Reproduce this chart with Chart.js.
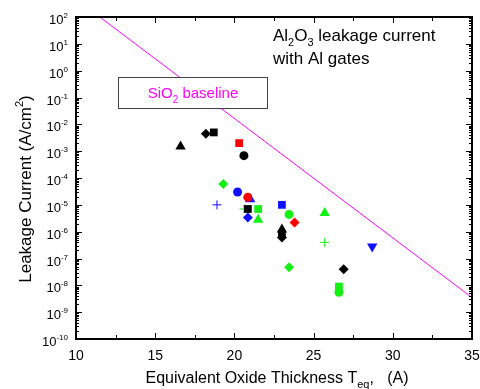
<!DOCTYPE html>
<html>
<head>
<meta charset="utf-8">
<script src="https://cdn.jsdelivr.net/npm/chart.js@4"></script>
<style>
  body { margin: 0; background: #fff; }
</style>
</head>
<body>
<canvas id="leakage-chart" width="480" height="389"></canvas>
<script>
// Data: [Teq (A), leakage current (A/cm2)]
const blackTriangle = [[16.6, 1.5e-3], [23.0, 1.2e-6]];
const blackDiamond = [[18.2, 4.5e-3], [23.0, 6e-7], [26.9, 4e-8]];
const blackSquare = [[18.7, 5e-3], [20.85, 7e-6], [23.0, 8e-7]];
const blackCircle = [[20.6, 6.8e-4]];
const redSquare = [[20.3, 2e-3]];
const redCircle = [[20.85, 1.9e-5]];
const redDiamond = [[23.8, 2.2e-6]];
const greenDiamond = [[19.3, 6e-5], [23.45, 4.7e-8]];
const greenPlus = [[20.6, 7e-6], [25.7, 4e-7]];
const greenSquare = [[21.5, 7e-6], [26.6, 9e-9]];
const greenTriangle = [[21.5, 2.8e-6], [25.7, 5e-6]];
const greenCircle = [[23.45, 4.4e-6], [26.6, 5.5e-9]];
const blueCircle = [[20.2, 3e-5]];
const blueTriangle = [[21.0, 1.6e-5]];
const bluePlus = [[18.9, 1e-5]];
const blueDiamond = [[20.85, 3.4e-6]];
const blueSquare = [[23.0, 1e-5]];
const blueDownTriangle = [[28.7, 2.8e-7]];

// SiO2 baseline end points
const baselineX = [11.5, 35];
const baselineY = [100, 3.5e-9];

// Axis ticks
const xTicks = [10, 15, 20, 25, 30, 35];
const yExponents = [2, 1, 0, -1, -2, -3, -4, -5, -6, -7, -8, -9, -10];

const BLACK = '#000000';
const RED = '#ff0000';
const GREEN = '#14f014';
const BLUE = '#1010ff';
const MAGENTA = '#ff00ff';
const FONT = '"Liberation Sans", Arial, sans-serif';

const toXY = arr => arr.map(p => ({ x: p[0], y: p[1] }));

function markers(data, color, style, radius, rotation) {
    return {
        data: toXY(data),
        showLine: false,
        pointStyle: style,
        pointRadius: radius,
        pointRotation: rotation || 0,
        backgroundColor: color,
        borderColor: color,
        borderWidth: style === 'cross' ? 1 : 0
    };
}

const datasets = [
    {
        data: baselineX.map((x, i) => ({ x: x, y: baselineY[i] })),
        showLine: true,
        borderColor: MAGENTA,
        borderWidth: 1,
        pointRadius: 0,
        fill: false
    },
    markers(blackTriangle, BLACK, 'triangle', 6),
    markers(blackDiamond, BLACK, 'rectRot', 5),
    markers(blackSquare, BLACK, 'rect', 5.5),
    markers(blackCircle, BLACK, 'circle', 4.5),
    markers(redSquare, RED, 'rect', 5.5),
    markers(redCircle, RED, 'circle', 4.5),
    markers(redDiamond, RED, 'rectRot', 5),
    markers(greenDiamond, GREEN, 'rectRot', 5),
    markers(greenPlus, GREEN, 'cross', 4.5),
    markers(greenSquare, GREEN, 'rect', 5.5),
    markers(greenTriangle, GREEN, 'triangle', 6),
    markers(greenCircle, GREEN, 'circle', 4.5),
    markers(blueCircle, BLUE, 'circle', 4.5),
    markers(blueTriangle, BLUE, 'triangle', 6),
    markers(bluePlus, BLUE, 'cross', 4.5),
    markers(blueDiamond, BLUE, 'rectRot', 5),
    markers(blueSquare, BLUE, 'rect', 5.5),
    markers(blueDownTriangle, BLUE, 'triangle', 6, 180)
];

// text with a sub/superscript part: parts = [[text, 'n'|'sub'|'sup'], ...]
function drawRich(ctx, parts, x, y, size, align, small) {
    const smallSize = small || Math.round(size * 0.68);
    const widths = parts.map(p => {
        ctx.font = (p[1] === 'n' ? size : smallSize) + 'px ' + FONT;
        return ctx.measureText(p[0]).width;
    });
    const total = widths.reduce((a, b) => a + b, 0);
    let cx = align === 'right' ? x - total : align === 'center' ? x - total / 2 : x;
    ctx.textAlign = 'left';
    ctx.textBaseline = 'alphabetic';
    parts.forEach((p, i) => {
        let dy = 0;
        if (p[1] === 'n') {
            ctx.font = size + 'px ' + FONT;
        } else {
            ctx.font = smallSize + 'px ' + FONT;
            dy = p[1] === 'sup' ? -size * 0.45 : size * 0.3;
        }
        ctx.fillText(p[0], cx, y + dy);
        cx += widths[i];
    });
}

const framePlugin = {
    id: 'frame',
    afterDatasetsDraw(chart) {
        const ctx = chart.ctx;
        const area = chart.chartArea;
        const xs = chart.scales.x;
        const ys = chart.scales.y;
        ctx.save();

        // SiO2 baseline box
        ctx.fillStyle = '#fff';
        ctx.fillRect(118, 77, 149, 31);
        ctx.strokeStyle = '#444';
        ctx.lineWidth = 1;
        ctx.strokeRect(118.5, 77.5, 149, 31);
        ctx.fillStyle = MAGENTA;
        drawRich(ctx, [['SiO', 'n'], ['2', 'sub'], [' baseline', 'n']], 193, 98, 15, 'center');

        // annotation
        ctx.fillStyle = '#000';
        drawRich(ctx, [['Al', 'n'], ['2', 'sub'], ['O', 'n'], ['3', 'sub'], [' leakage current', 'n']], 273, 41, 17, 'left', 11);
        drawRich(ctx, [['with Al gates', 'n']], 273, 64, 17, 'left');

        // frame
        ctx.strokeStyle = '#000';
        ctx.lineWidth = 2;
        ctx.strokeRect(area.left, area.top, area.right - area.left, area.bottom - area.top);

        // x ticks, inward on bottom and top
        ctx.lineWidth = 1;
        ctx.beginPath();
        for (let v = 10; v <= 35; v += 2.5) {
            const px = Math.round(xs.getPixelForValue(v)) + 0.5;
            const len = v % 5 === 0 ? 6 : 4;
            ctx.moveTo(px, area.bottom); ctx.lineTo(px, area.bottom - len);
            ctx.moveTo(px, area.top); ctx.lineTo(px, area.top + len);
        }
        // y ticks, log major + minor on both sides
        for (let e = -10; e <= 2; e++) {
            for (let m = 1; m <= 9; m++) {
                if (e === 2 && m > 1) break;
                const py = Math.round(ys.getPixelForValue(m * Math.pow(10, e))) + 0.5;
                const len = m === 1 ? 6 : 3;
                ctx.moveTo(area.left, py); ctx.lineTo(area.left + len, py);
                ctx.moveTo(area.right, py); ctx.lineTo(area.right - len, py);
            }
        }
        ctx.stroke();

        // tick labels
        ctx.fillStyle = '#000';
        ctx.font = '14px ' + FONT;
        ctx.textAlign = 'center';
        ctx.textBaseline = 'top';
        xTicks.forEach(v => ctx.fillText(String(v), xs.getPixelForValue(v), area.bottom + 10));
        yExponents.forEach(e => {
            const py = ys.getPixelForValue(Math.pow(10, e));
            drawRich(ctx, [['10', 'n'], [String(e), 'sup']], area.left - 8, py + 7, 13, 'right', 8);
        });

        // axis titles
        drawRich(ctx, [['Equivalent Oxide Thickness T', 'n'], ['eq', 'sub'], [',   (A)', 'n']],
            (area.left + area.right) / 2 + 3, 383, 16, 'center', 11);
        ctx.translate(31, 189);
        ctx.rotate(-Math.PI / 2);
        drawRich(ctx, [['Leakage Current (A/cm', 'n'], ['2', 'sup'], [')', 'n']], 0, 0, 17, 'center', 11);
        ctx.restore();
    }
};

new Chart(document.getElementById('leakage-chart'), {
    type: 'scatter',
    data: { datasets: datasets },
    options: {
        responsive: false,
        animation: false,
        layout: { padding: { left: 76, right: 8, top: 17, bottom: 50 } },
        plugins: {
            legend: { display: false },
            tooltip: { enabled: false }
        },
        scales: {
            x: { type: 'linear', min: 10, max: 35, display: false },
            y: { type: 'logarithmic', min: 1e-10, max: 100, display: false }
        }
    },
    plugins: [framePlugin]
});
</script>
</body>
</html>
